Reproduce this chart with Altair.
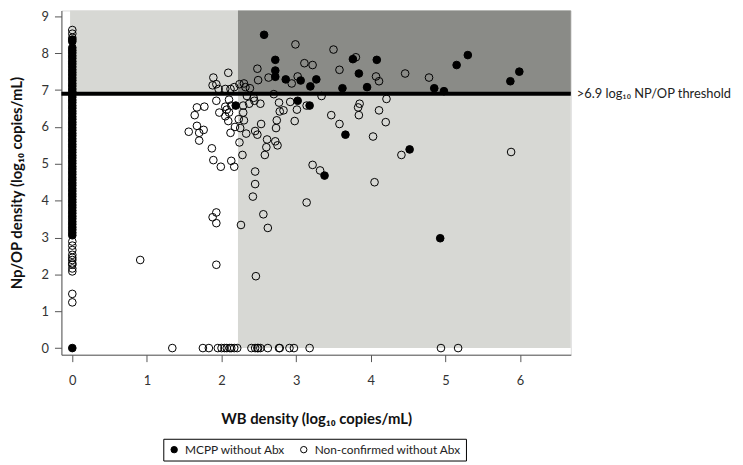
import altair as alt
import pandas as pd

# ---------------- data ----------------
# MCPP without Abx (filled)
mcpp_x = [2.57, 2.72, 2.72, 2.72, 2.86, 3.06, 3.19, 3.27, 3.02, 3.18, 2.19, 3.76, 4.08, 3.84,
          3.62, 3.95, 5.15, 5.30, 4.85, 4.98, 3.66, 4.52, 5.87, 5.99, 4.93, 3.38, 0.0]
mcpp_y = [8.50, 7.82, 7.53, 7.36, 7.29, 7.26, 7.10, 7.29, 6.71, 6.58, 6.58, 7.84, 7.82, 7.45,
          7.05, 7.08, 7.68, 7.95, 7.05, 6.97, 5.79, 5.39, 7.24, 7.50, 2.98, 4.68, 0.0]

# dense column of samples at WB density 0
column_y = [8.37, 8.32, 8.15, 8.08, 8.01, 7.93, 7.86, 7.78, 7.71, 7.63, 7.55, 7.48, 7.41, 7.33,
            7.26, 7.18, 7.11, 7.03, 6.96, 6.88, 6.81, 6.73, 6.66, 6.58, 6.51, 6.43, 6.36, 6.28,
            6.21, 6.13, 6.06, 5.98, 5.91, 5.83, 5.76, 5.68, 5.61, 5.53, 5.46, 5.38, 5.31, 5.23,
            5.16, 5.08, 5.01, 4.93, 4.86, 4.78, 4.71, 4.63, 4.56, 4.48, 4.41, 4.33, 4.26, 4.18,
            4.11, 4.03, 3.96, 3.88, 3.81, 3.73, 3.66, 3.58, 3.51, 3.43, 3.36, 3.28, 3.21, 3.13,
            3.06]

# Non-confirmed without Abx (open)
non_x = [2.09, 1.89, 1.88, 1.93, 1.96, 2.12, 1.93, 1.67, 1.77, 1.64, 1.97, 2.05, 2.07, 2.10,
         2.09, 1.67, 1.56, 1.70, 1.76, 1.70, 2.12, 1.87, 1.89, 1.99, 2.13, 2.17, 2.05, 2.17,
         2.10, 2.13, 2.05, 2.18, 2.23,
         2.24, 2.28, 2.25, 2.29, 2.37, 2.44, 2.29, 2.30, 2.33, 2.45, 2.48, 2.53, 2.61, 2.72,
         2.75, 2.58, 2.60, 2.74, 2.73, 2.98, 2.52, 2.77, 2.92, 3.01, 3.14, 2.78, 2.83, 2.34,
         2.43, 2.70, 3.34,
         2.24, 2.30, 2.32, 2.38, 2.99, 3.50, 3.80, 2.48, 3.11, 3.22, 3.58, 2.49, 2.63, 3.02,
         2.94, 4.07, 4.11, 4.46, 4.78,
         4.21, 3.85, 3.83, 3.84, 4.11, 3.47, 3.58, 4.20, 4.03, 4.41, 5.88,
         2.45, 2.45, 2.42, 3.14, 3.22, 3.32, 4.05, 2.56, 2.26, 2.62, 1.93, 1.88, 1.93, 1.93,
         2.46, 0.91,
         1.34, 1.75, 1.83, 1.95, 2.00, 2.04, 2.07, 2.11, 2.13, 2.17, 2.21, 2.40, 2.45, 2.48,
         2.49, 2.52, 2.62, 2.77, 2.78, 2.91, 2.97, 3.18, 4.94, 5.17,
         0.0, 0.0, 0.0, 0.0, 0.0, 0.0, 0.0, 0.0, 0.0, 0.0, 0.0, 0.0, 0.0, 0.0, 0.0]
non_y = [7.47, 7.34, 7.13, 7.16, 7.03, 7.03, 6.71, 6.53, 6.55, 6.32, 6.39, 6.55, 6.47, 6.39,
         6.16, 6.03, 5.87, 5.84, 5.92, 5.63, 5.84, 5.42, 5.10, 4.92, 5.08, 4.92, 7.03, 7.08,
         6.74, 6.58, 6.29, 6.00, 6.21,
         5.58, 5.24, 5.97, 6.39, 6.63, 6.71, 6.58, 6.18, 5.82, 5.89, 5.79, 6.08, 5.66, 5.61,
         5.50, 5.24, 5.45, 6.18, 5.97, 6.16, 6.63, 6.66, 6.68, 6.47, 6.58, 6.42, 6.45, 6.84,
         6.79, 6.89, 6.84,
         7.16, 7.18, 7.08, 7.05, 8.24, 8.10, 7.89, 7.58, 7.73, 7.68, 7.55, 7.27, 7.34, 7.37,
         7.18, 7.37, 7.24, 7.45, 7.34,
         6.76, 6.63, 6.53, 6.32, 6.45, 6.32, 6.08, 6.13, 5.74, 5.24, 5.32,
         4.79, 4.45, 4.11, 3.95, 4.97, 4.82, 4.50, 3.63, 3.34, 3.26, 3.68, 3.55, 3.39, 2.26,
         1.95, 2.39,
         0.0, 0.0, 0.0, 0.0, 0.0, 0.0, 0.0, 0.0, 0.0, 0.0, 0.0, 0.0, 0.0, 0.0,
         0.0, 0.0, 0.0, 0.0, 0.0, 0.0, 0.0, 0.0, 0.0, 0.0,
         8.63, 8.53, 8.42, 2.89, 2.78, 2.66, 2.53, 2.45, 2.39, 2.30, 2.26, 2.16, 2.08, 1.47, 1.24]

groups = ["MCPP without Abx", "Non-confirmed without Abx"]
threshold_np = 6.9
threshold_wb = 2.22
x_ticks = [0, 1, 2, 3, 4, 5, 6]
y_ticks = [0, 1, 2, 3, 4, 5, 6, 7, 8, 9]
x_dom = [-0.146, 6.68]
y_dom = [-0.18, 9.16]

# ---------------- tables ----------------
pts = pd.concat([
    pd.DataFrame({"x": non_x, "y": non_y, "group": groups[1]}),
    pd.DataFrame({"x": [0.0] * len(column_y), "y": column_y, "group": groups[0]}),
    pd.DataFrame({"x": mcpp_x, "y": mcpp_y, "group": groups[0]}),
], ignore_index=True)

regions = pd.DataFrame({
    "x": [-0.03, threshold_wb, threshold_wb],
    "x2": [x_dom[1], x_dom[1], x_dom[1]],
    "y": [threshold_np, 0.0, threshold_np],
    "y2": [y_dom[1], threshold_np, y_dom[1]],
    "shade": ["#d7d8d4", "#d7d8d4", "#8a8b87"],
})

xs = alt.Scale(domain=x_dom, nice=False, zero=False)
ys = alt.Scale(domain=y_dom, nice=False, zero=False)

x_axis = alt.Axis(values=x_ticks, title="WB density (log₁₀ copies/mL)",
                  grid=False, tickSize=7, labelPadding=13, titlePadding=25,
                  format="d", labelOverlap=False)
y_axis = alt.Axis(values=y_ticks, title="Np/OP density (log₁₀ copies/mL)",
                  grid=False, tickSize=7, labelPadding=6, titlePadding=17,
                  format="d", labelOverlap=False, tickCount=10)

bg = alt.Chart(regions).mark_rect(strokeWidth=0).encode(
    x=alt.X("x:Q", scale=xs, axis=x_axis),
    x2="x2:Q",
    y=alt.Y("y:Q", scale=ys, axis=y_axis),
    y2="y2:Q",
    color=alt.Color("shade:N", scale=None, legend=None),
)

rule = alt.Chart(pd.DataFrame({"t": [threshold_np]})).mark_rule(
    color="black", strokeWidth=4).encode(y=alt.Y("t:Q", scale=ys, axis=y_axis))

label = alt.Chart(pd.DataFrame({"x": [x_dom[1]], "y": [threshold_np],
                                "t": [">6.9 log₁₀ NP/OP threshold"]})).mark_text(
    align="left", baseline="middle", dx=6, fontSize=13, color="#222222", clip=False
).encode(x=alt.X("x:Q", scale=xs, axis=x_axis), y=alt.Y("y:Q", scale=ys, axis=y_axis),
         text="t:N")

points = alt.Chart(pts).mark_point(
    shape="circle", size=60, strokeWidth=1, opacity=1, fillOpacity=1, stroke="black"
).encode(
    x=alt.X("x:Q", scale=xs, axis=x_axis),
    y=alt.Y("y:Q", scale=ys, axis=y_axis),
    fill=alt.Fill("group:N",
                  scale=alt.Scale(domain=groups, range=["black", "transparent"]),
                  legend=alt.Legend(title=None, orient="none", legendX=103, legendY=433,
                                    direction="horizontal", strokeColor="black",
                                    padding=5, symbolType="circle", symbolSize=42,
                                    symbolStrokeColor="black", symbolStrokeWidth=1,
                                    labelFontSize=12, labelColor="#222222", labelLimit=300,
                                    columnPadding=12, labelOffset=5)),
)

chart = alt.layer(bg, rule, points, label).resolve_scale(
    color="independent", fill="independent"
).properties(
    width=515, height=348,
    autosize=alt.AutoSizeParams(type="none"),
    padding={"left": 54, "top": 0, "right": 166, "bottom": 109},
    background="white",
).configure_view(stroke=None).configure(font="Lato").configure_axis(
    domainColor="#555555", tickColor="#555555", labelColor="#333333",
    labelFontSize=13, titleFontSize=15, titleFontWeight="bold", titleColor="#111111",
    domainWidth=1, tickWidth=1,
)

chart.save("out.html", embed_options={"renderer": "svg", "actions": False})
